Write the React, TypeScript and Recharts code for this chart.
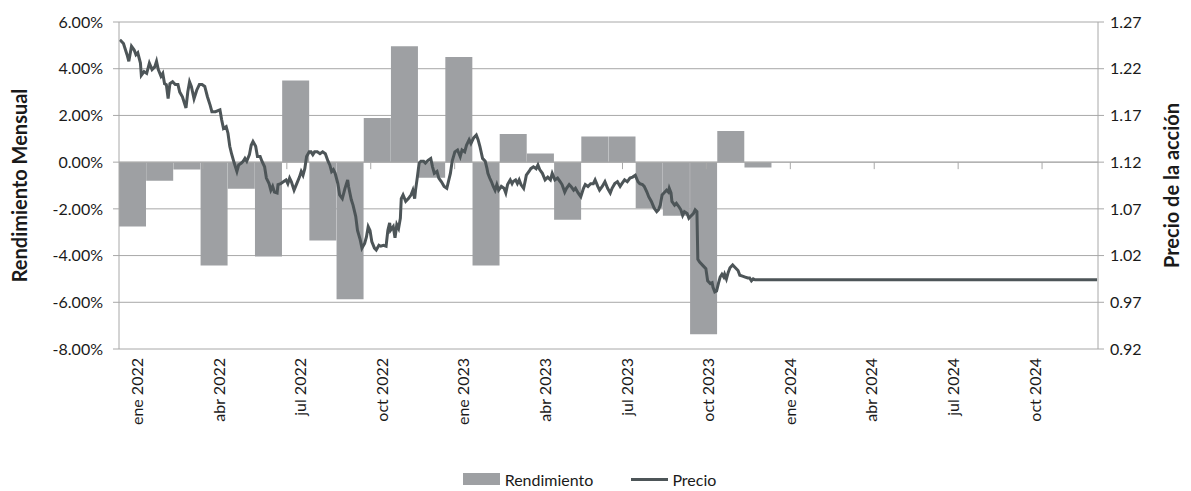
import React from 'react';
import { ComposedChart, Bar, Line, XAxis, YAxis, CartesianGrid, Legend, ReferenceLine } from 'recharts';

const monthNames = ['ene', 'feb', 'mar', 'abr', 'may', 'jun', 'jul', 'ago', 'sep', 'oct', 'nov', 'dic'];
const years = [2022, 2023, 2024];
const months: string[] = years.flatMap((y) => monthNames.map((m) => `${m} ${y}`));

// Monthly return (%) Jan 2022 .. Dec 2023
const rendimiento: number[] = [
  -2.76, -0.8, -0.31, -4.43, -1.14, -4.04, 3.5, -3.36, -5.87, 1.89, 4.96, -0.67,
  4.5, -4.43, 1.21, 0.37, -2.47, 1.1, 1.1, -1.97, -2.3, -7.37, 1.33, -0.23,
];

// Share price: day index since 1 Jan 2022, and price
const priceDay: number[] = [
  1, 5, 9, 11, 14, 17, 19, 21, 24, 25, 28, 31, 34, 37, 40, 42, 44, 47, 49, 51, 53, 55, 57, 60, 63, 66, 68, 71, 75, 77, 79, 81, 84, 87, 90, 93, 96, 99, 102, 104, 108, 113, 115, 117, 120, 122, 124,
  126, 129, 132, 134, 137, 139, 141, 143, 146, 148, 150, 153, 155, 158, 160, 163, 165, 168, 170, 172, 174, 177, 178, 181, 184, 187, 189, 191, 193, 196, 199, 202, 204, 206, 208, 210, 213, 215, 217, 219, 222, 225, 228, 231, 234, 236, 238, 240,
  242, 245, 247, 250, 253, 256, 257, 260, 262, 265, 267, 270, 272, 275, 277, 279, 281, 283, 286, 288, 291, 293, 296, 299, 301, 303, 304, 307, 309, 311, 313, 315, 316, 318, 321, 324, 327, 329, 331, 332, 334, 336, 338, 341, 343, 346, 349, 351, 353, 356, 358, 361, 364, 367,
  371, 373, 376, 379, 382, 384, 387, 389, 392, 394, 397, 400, 402, 404, 407, 410, 412, 413, 415, 417, 419, 421, 423, 425, 428, 431, 433, 435, 438, 440, 441, 444, 446, 448, 450, 453, 455, 456, 459, 461, 464, 467, 469, 471, 474, 477, 480, 483, 485, 488,
  491, 494, 496, 499, 501, 504, 506, 509, 511, 514, 517, 520, 522, 525, 528, 531, 533, 536, 538, 541, 544, 547, 550, 552, 555, 558, 561, 563, 566, 569, 572, 575, 578, 581, 583, 586, 588, 591, 593, 596, 599, 602, 604, 606, 608, 610, 613, 615,
  616, 618, 619, 622, 624, 627, 629, 631, 633, 636, 638, 640, 643, 645, 647, 648, 650, 654, 657, 659, 662, 664, 665, 667, 669, 671, 673, 675, 677, 678, 680, 682, 684, 687, 690, 693, 695, 698, 701, 704, 706, 708, 710, 712, 1095,
];
const priceValue: number[] = [
  1.251, 1.247, 1.235, 1.228, 1.244, 1.24, 1.235, 1.237, 1.226, 1.213, 1.217, 1.215, 1.226, 1.219, 1.222, 1.228, 1.219, 1.212, 1.215, 1.204, 1.203, 1.188, 1.204, 1.206, 1.203, 1.203, 1.195, 1.19, 1.178, 1.195, 1.206, 1.201, 1.188, 1.197, 1.203, 1.203, 1.201, 1.19, 1.181, 1.174, 1.174, 1.176, 1.165, 1.156, 1.158, 1.151, 1.137,
  1.129, 1.119, 1.11, 1.117, 1.119, 1.121, 1.124, 1.121, 1.128, 1.138, 1.142, 1.137, 1.126, 1.126, 1.121, 1.115, 1.103, 1.097, 1.09, 1.094, 1.088, 1.087, 1.096, 1.097, 1.099, 1.101, 1.097, 1.103, 1.099, 1.09, 1.097, 1.104, 1.11, 1.106, 1.113, 1.126, 1.131, 1.131, 1.128, 1.131, 1.131, 1.129, 1.131, 1.129, 1.121, 1.117, 1.11, 1.112,
  1.108, 1.097, 1.085, 1.081, 1.092, 1.101, 1.094, 1.08, 1.074, 1.062, 1.047, 1.037, 1.028, 1.033, 1.04, 1.051, 1.047, 1.035, 1.028, 1.026, 1.031, 1.03, 1.031, 1.03, 1.047, 1.055, 1.047, 1.051, 1.039, 1.053, 1.049, 1.06, 1.081, 1.085, 1.078, 1.081, 1.085, 1.09, 1.081, 1.09, 1.104, 1.119, 1.121, 1.121, 1.119, 1.122, 1.124, 1.115, 1.108, 1.11, 1.103, 1.099, 1.094, 1.092,
  1.108, 1.121, 1.131, 1.133, 1.126, 1.133, 1.131, 1.138, 1.144, 1.14, 1.146, 1.149, 1.144, 1.137, 1.124, 1.121, 1.113, 1.108, 1.103, 1.099, 1.094, 1.09, 1.096, 1.09, 1.094, 1.092, 1.087, 1.096, 1.101, 1.097, 1.099, 1.101, 1.097, 1.101, 1.096, 1.092, 1.101, 1.106, 1.11, 1.113, 1.115, 1.113, 1.117, 1.112, 1.108, 1.101, 1.104, 1.101, 1.108, 1.101,
  1.103, 1.099, 1.096, 1.088, 1.092, 1.096, 1.094, 1.09, 1.092, 1.087, 1.083, 1.092, 1.096, 1.094, 1.097, 1.097, 1.101, 1.094, 1.09, 1.094, 1.099, 1.092, 1.087, 1.092, 1.097, 1.099, 1.094, 1.097, 1.101, 1.099, 1.103, 1.104, 1.106, 1.099, 1.097, 1.096, 1.094, 1.088, 1.083, 1.078, 1.071, 1.067, 1.069, 1.074, 1.085, 1.087, 1.09, 1.088,
  1.092, 1.087, 1.078, 1.074, 1.076, 1.072, 1.069, 1.063, 1.067, 1.065, 1.06, 1.062, 1.065, 1.069, 1.067, 1.016, 1.013, 1.009, 1.006, 0.993, 0.99, 0.991, 0.986, 0.981, 0.982, 0.99, 0.997, 1.0, 0.997, 1.0, 0.995, 1.002, 1.007, 1.01, 1.007, 1.004, 0.999, 0.998, 0.997, 0.996, 0.996, 0.993, 0.995, 0.994, 0.994,
];

const leftTicks = [-8, -6, -4, -2, 0, 2, 4, 6];
const rightTicks = [0.92, 0.97, 1.02, 1.07, 1.12, 1.17, 1.22, 1.27];
// Quarter boundaries (month index) where the zero-line axis has tick marks
const quarterMarks = [3, 6, 9, 12, 15, 18, 21, 24, 27, 30, 33];

const barData = months.map((m, i) => ({ month: m, rend: i < rendimiento.length ? rendimiento[i] : null }));
const lineData = priceDay.map((d, i) => ({ day: d, price: priceValue[i] }));

const FONT = 'Lato, "Open Sans", sans-serif';
const TEXT = '#1a1a1a';
const BAR = '#9ea0a3';
const LINE = '#4d5558';
const GRID = '#a8a8a8';

const MonthTick = (props: any) => {
  const { x, y, payload } = props;
  return (
    <g transform={`translate(${x + 4},${y - 21}) rotate(-90)`}>
      <text x={0} y={0} textAnchor="end" dominantBaseline="central" fontFamily={FONT} fontSize={16} fill={TEXT}>
        {payload.value}
      </text>
    </g>
  );
};

const LegendContent = () => (
  <div style={{ display: 'flex', justifyContent: 'center', alignItems: 'center', fontFamily: FONT, fontSize: 16, color: TEXT, height: 24, paddingRight: 12 }}>
    <span style={{ display: 'inline-block', width: 37, height: 12, background: BAR, marginRight: 5 }} />
    <span style={{ marginRight: 38 }}>Rendimiento</span>
    <span style={{ display: 'inline-block', width: 37, height: 3, background: LINE, marginRight: 4 }} />
    <span>Precio</span>
  </div>
);

const axisTitle = (text: string, x: number) => (p: any) => {
  const vb = p.viewBox || {};
  const cy = (vb.y ?? 14) + (vb.height ?? 327) / 2;
  return (
    <text
      transform={`translate(${x},${cy}) rotate(-90)`}
      textAnchor="middle"
      dominantBaseline="central"
      fontFamily={FONT}
      fontSize={20}
      fontWeight="bold"
      fill={TEXT}
    >
      {text}
    </text>
  );
};

export default function App() {
  return (
    <ComposedChart
      width={1175}
      height={483}
      data={barData}
      margin={{ top: 14, right: 0, bottom: 0, left: 0 }}
      barCategoryGap={0}
      barGap={0}
    >
      <CartesianGrid yAxisId="l" xAxisId="m" vertical={false} stroke={GRID} strokeWidth={1} />
      <XAxis
        xAxisId="m"
        dataKey="month"
        interval={2}
        axisLine={false}
        tickLine={false}
        tickSize={0}
        tickMargin={0}
        height={118}
        tick={<MonthTick />}
      />
      <XAxis xAxisId="d" type="number" dataKey="day" domain={[0, 1096]} hide allowDataOverflow />
      <XAxis xAxisId="q" type="number" domain={[0, 36]} hide allowDataOverflow />
      <YAxis
        yAxisId="l"
        domain={[-8, 6]}
        ticks={leftTicks}
        width={111}
        stroke={GRID}
        tickSize={6}
        tickMargin={10}
        tickFormatter={(v: number) => `${v.toFixed(2)}%`}
        tick={{ fontFamily: FONT, fontSize: 16, fill: TEXT }}
        allowDataOverflow
        label={{ content: axisTitle('Rendimiento Mensual', 11) }}
      />
      <YAxis
        yAxisId="r"
        orientation="right"
        domain={[0.92, 1.27]}
        ticks={rightTicks}
        width={85}
        stroke={GRID}
        tickSize={6}
        tickMargin={6}
        tickFormatter={(v: number) => v.toFixed(2)}
        tick={{ fontFamily: FONT, fontSize: 16, fill: TEXT }}
        allowDataOverflow
        label={{ content: axisTitle('Precio de la acción', 1163) }}
      />
      <Legend verticalAlign="bottom" height={24} content={<LegendContent />} />
      <Bar xAxisId="m" yAxisId="l" dataKey="rend" fill={BAR} isAnimationActive={false} />
      <ReferenceLine xAxisId="m" yAxisId="l" y={0} stroke={GRID} strokeWidth={1} />
      {quarterMarks.map((q) => (
        <ReferenceLine
          key={q}
          xAxisId="q"
          yAxisId="l"
          segment={[{ x: q, y: 0 }, { x: q, y: -0.3 }]}
          stroke={GRID}
          strokeWidth={1}
        />
      ))}
      <Line
        xAxisId="d"
        yAxisId="r"
        data={lineData}
        dataKey="price"
        type="linear"
        stroke={LINE}
        strokeWidth={3}
        dot={false}
        activeDot={false}
        isAnimationActive={false}
      />
    </ComposedChart>
  );
}
